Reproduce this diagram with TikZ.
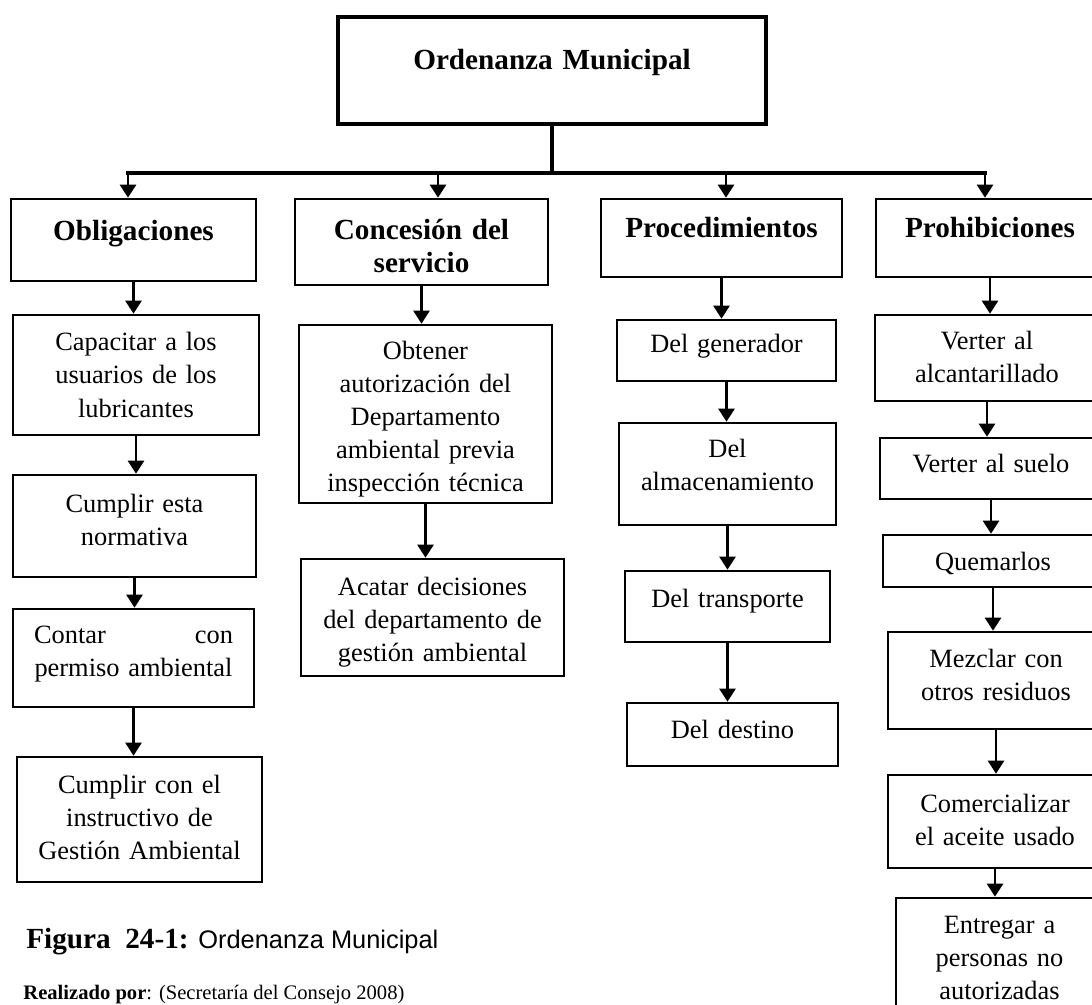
\documentclass[tikz,border=0pt]{standalone}
\usepackage{fontspec}
\setmainfont{Liberation Serif}
\newfontfamily\arialfont{Liberation Sans}
\usetikzlibrary{arrows.meta}

\begin{document}
\begin{tikzpicture}[x=.5pt,y=-.5pt,
  caja/.style={draw,line width=1.3pt,inner sep=0pt,align=center,font=\fontsize{13.2}{16.5}\selectfont},
  titulo/.style={caja,font=\fontsize{14.6}{16.5}\selectfont\bfseries},
  flecha/.style={line width=1.25pt,-{Triangle[length=6.5pt,width=8pt]}},
  barra/.style={line width=1.6pt,line cap=rect}]
\useasboundingbox (0,0) rectangle (1092,1005);
\clip (0,0) rectangle (1092,1005);

\node[titulo,line width=2.2pt,text width=214pt,text height=26.5pt,text depth=27pt] (ord)
  at (552,70.5) {Ordenanza Municipal};

\foreach \nm/\xa/\xb/\ya/\yb/\yc/\txt in {
  obl/11/256/199/281/241/{Obligaciones},
  con/295/548/199/285/240/{Concesión del\\servicio},
  pro/601/842/199/277/238/{Procedimientos},
  prh/876/1104/199/277/238/{Prohibiciones}} {
  \pgfmathsetmacro{\bw}{(\xb-\xa)/2}
  \pgfmathsetmacro{\bh}{(\yc-\ya)/2}
  \pgfmathsetmacro{\bd}{(\yb-\yc)/2}
  \node[titulo,text width=\bw pt,text height=\bh pt,text depth=\bd pt] (\nm)
    at ({(\xa+\xb)/2},{(\ya+\yb)/2}) {\txt};
}

\foreach \nm/\xa/\xb/\ya/\yb/\yc/\txt in {
  cap/13/259/315/435/351/{Capacitar a los\\usuarios de los\\lubricantes},
  cum/13/256/475/577/512/{Cumplir esta\\normativa},
  cnt/13/254/609/707/643/{\makebox[99.5pt]{Contar\hfill con}\\permiso ambiental},
  ins/17/262/757/882/793/{Cumplir con el\\instructivo de\\Gestión Ambiental},
  obt/299/552/325/503/360/{Obtener\\autorización del\\Departamento\\ambiental previa\\inspección técnica},
  aca/301/564/559/676/595/{Acatar decisiones\\del departamento de\\gestión ambiental},
  gen/617/836/320/381/353/{Del generador},
  alm/619/836/423/525/458/{Del\\almacenamiento},
  tra/625/830/571/642/607/{Del transporte},
  des/627/838/703/766/738/{Del destino},
  alc/875/1099/315/401/350/{Verter al\\alcantarillado},
  sue/880/1102/438/499/473/{Verter al suelo},
  que/883/1103/535/587/570/{Quemarlos},
  mez/888/1104/632/729/667/{Mezclar con\\otros residuos},
  com/888/1102/775/868/812/{Comercializar\\el aceite usado},
  ent/896/1103/898/1040/933/{Entregar a\\personas no\\autorizadas}} {
  \pgfmathsetmacro{\bw}{(\xb-\xa)/2}
  \pgfmathsetmacro{\bh}{(\yc-\ya)/2}
  \pgfmathsetmacro{\bd}{(\yb-\yc)/2}
  \node[caja,text width=\bw pt,text height=\bh pt,text depth=\bd pt] (\nm)
    at ({(\xa+\xb)/2},{(\ya+\yb)/2}) {\txt};
}

\coordinate (bus) at (552,173);
\coordinate (b1) at (128,173);
\coordinate (b2) at (438,173);
\coordinate (b3) at (726,173);
\coordinate (b4) at (985,173);
\draw[barra] (ord.south) -- (bus);
\draw[barra] (b1) -- (b4);
\foreach \src/\dst in {b1/obl,b2/con,b3/pro,b4/prh}
  \draw[flecha] (\src) -- (\src |- \dst.north);

\foreach \src/\dst in {obl/cap,cap/cum,cum/cnt,cnt/ins,con/obt,obt/aca,
  pro/gen,gen/alm,alm/tra,tra/des,prh/alc,alc/sue,sue/que,que/mez,mez/com,com/ent}
  \draw[flecha] (\src.south) -- (\src.south |- \dst.north);

\node[anchor=base west,inner sep=0pt,font=\fontsize{14.6}{17}\selectfont] (fig) at (26,948)
  {\textbf{Figura\ \ 24-1:} {\arialfont\fontsize{12.7}{15}\selectfont Ordenanza Municipal}};
\node[anchor=base west,inner sep=0pt,font=\fontsize{10.3}{12}\selectfont] (rea) at (23,999)
  {\textbf{Realizado por}: (Secretaría del Consejo 2008)};
\end{tikzpicture}
\end{document}
